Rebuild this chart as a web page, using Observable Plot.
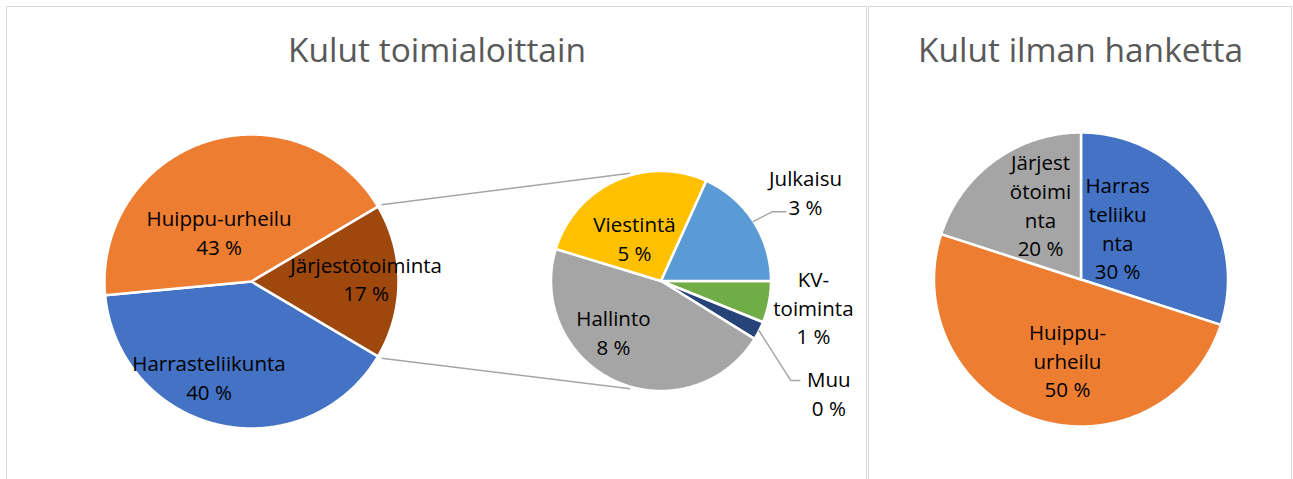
<!DOCTYPE html>
<html><head><meta charset="utf-8">
<script src="https://cdn.jsdelivr.net/npm/d3@7"></script>
<script src="https://cdn.jsdelivr.net/npm/@observablehq/plot@0.6"></script>
<style>
body{margin:0;background:#fff;}
#wrap{position:relative;width:1293px;height:479px;overflow:hidden;font-family:"Open Sans",sans-serif;}
.panel{position:absolute;top:6px;height:520px;border:1.5px solid #d9d9d9;box-sizing:border-box;}
#wrap svg{position:absolute;left:0;top:0;}
</style></head><body>
<div id="wrap"><div class="panel" style="left:6px;width:861px"></div><div class="panel" style="left:868px;width:424px"></div></div>
<script>
// ---------- data ----------
const titles = ["Kulut toimialoittain", "Kulut ilman hanketta"];
// main pie (clockwise order)
const mainCategories = ["Harrasteliikunta", "Huippu-urheilu", "Järjestötoiminta"];
const mainValues = [40, 43, 17];
// secondary pie = breakdown of Järjestötoiminta (% of total), clockwise from 3 o'clock
const subCategories = ["KV-toiminta", "Muu", "Hallinto", "Viestintä", "Julkaisu"];
const subValues = [1.04, 0.46, 7.8, 4.6, 3.1];
// right pie (clockwise from 12 o'clock)
const rightCategories = ["Harrasteliikunta", "Huippu-urheilu", "Järjestötoiminta"];
const rightValues = [30, 50, 20];
// label texts as wrapped in the chart
const mainLabelText = ["Harrasteliikunta", "Huippu-urheilu", "Järjestötoiminta"];
const subLabelText = ["KV-\ntoiminta", "Muu", "Hallinto", "Viestintä", "Julkaisu"];
const rightLabelText = ["Harras\nteliiku\nnta", "Huippu-\nurheilu", "Järjest\nötoimi\nnta"];

// ---------- styles / layout ----------
const W = 1293, H = 479;
const mainColors = ["#4472C4", "#ED7D31", "#9E480E"];
const subColors = ["#70AD47", "#264478", "#A5A5A5", "#FFC000", "#5B9BD5"];
const rightColors = ["#4472C4", "#ED7D31", "#A5A5A5"];
const geo = {
  main: {cx: 251, cy: 281, r: 147},
  sub: {cx: 660.5, cy: 280.5, r: 110},
  right: {cx: 1080.5, cy: 279, r: 147}
};
const panelCenters = [436.5, 1080];
// label placement: [angle tweak (deg), radius fraction]
const mainLabelPos = [[11.5, 0.708], [-15, 0.405], [-1.8, 0.78]];
const subLabelPos = [[-1.5, 1.405], [6.6, 1.83], [19, 0.63], [-7, 0.463], [1.1, 1.545]];
const rightLabelPos = [[-19, 0.435], [-8.4, 0.552], [7.8, 0.583]];
// leader lines (subpie): knee and end offsets relative to label centre
const leaders = {"Julkaisu": [[-33, 20], [-20, 20]], "Muu": [[-38, -11.5], [-29, -11.5]]};

const rad = d => d * Math.PI / 180;
const polar = (g, a, rr) => ({x: g.cx + rr * Math.sin(rad(a)), y: g.cy - rr * Math.cos(rad(a))});

function buildPie(id, names, values, colors, start, g, labelText, labelPos, pctOf) {
  const total = d3.sum(values);
  let a = start;
  const pts = [], labels = [], info = [];
  names.forEach((n, i) => {
    const span = values[i] / total * 360;
    const a0 = a, a1 = a + span, mid = (a0 + a1) / 2;
    const key = id + ":" + n;
    pts.push({key, color: colors[i], x: g.cx, y: g.cy});
    const steps = Math.max(2, Math.ceil(span * 2));
    for (let k = 0; k <= steps; k++) {
      const p = polar(g, a0 + (a1 - a0) * k / steps, g.r);
      pts.push({key, color: colors[i], ...p});
    }
    const [tw, fr] = labelPos[i];
    const lp = polar(g, mid + tw, fr * g.r);
    const pct = Math.round(values[i] / pctOf * 100);
    labels.push({...lp, text: labelText[i] + "\n" + pct + " %", name: n});
    info.push({name: n, a0, a1, mid});
    a = a1;
  });
  return {pts, labels, info};
}

const mainTotal = d3.sum(mainValues);
const mainStart = 90 + mainValues[2] / mainTotal * 180; // "other" slice centred at 3 o'clock
const mainPie = buildPie("main", mainCategories, mainValues, mainColors, mainStart, geo.main, mainLabelText, mainLabelPos, mainTotal);
const subPie = buildPie("sub", subCategories, subValues, subColors, 90, geo.sub, subLabelText, subLabelPos, mainTotal);
const rightPie = buildPie("right", rightCategories, rightValues, rightColors, 0, geo.right, rightLabelText, rightLabelPos, d3.sum(rightValues));

// connector lines between main "other" slice and secondary pie
const other = mainPie.info[2];
const connectors = [
  {p1: polar(geo.main, other.a0, geo.main.r + 4), p2: polar(geo.sub, 344, geo.sub.r + 2)},
  {p1: polar(geo.main, other.a1, geo.main.r + 4), p2: polar(geo.sub, 196, geo.sub.r + 2)}
];

// leader lines
const leaderPts = [];
subPie.info.forEach((s, i) => {
  const L = leaders[s.name];
  if (!L) return;
  const lab = subPie.labels[i];
  const e = polar(geo.sub, s.mid, geo.sub.r);
  leaderPts.push({key: s.name, x: e.x, y: e.y});
  L.forEach(([dx, dy]) => leaderPts.push({key: s.name, x: lab.x + dx, y: lab.y + dy}));
});

const allPts = [...mainPie.pts, ...subPie.pts, ...rightPie.pts];
const allLabels = [...mainPie.labels, ...subPie.labels, ...rightPie.labels];
const titleData = titles.map((t, i) => ({text: t, x: panelCenters[i], y: 51}));

const chart = Plot.plot({
  width: W, height: H,
  margin: 0,
  x: {domain: [0, W], range: [0, W], axis: null},
  y: {domain: [0, H], range: [0, H], axis: null},
  style: {fontFamily: "'Open Sans', sans-serif", background: "transparent"},
  marks: [
    Plot.link(connectors, {x1: d => d.p1.x, y1: d => d.p1.y, x2: d => d.p2.x, y2: d => d.p2.y, stroke: "#a6a6a6", strokeWidth: 1.5}),
    Plot.line(allPts, {x: "x", y: "y", z: "key", fill: "color", stroke: "white", strokeWidth: 2.5, strokeLinejoin: "round", curve: "linear-closed"}),
    Plot.line(leaderPts, {x: "x", y: "y", z: "key", stroke: "#a6a6a6", strokeWidth: 1.5}),
    Plot.text(allLabels, {x: "x", y: "y", text: "text", fontSize: 20.5, lineHeight: 1.4, fill: "#000", textAnchor: "middle"}),
    Plot.text(titleData, {x: "x", y: "y", text: "text", fontSize: 33.5, fill: "#595959", textAnchor: "middle"})
  ]
});
document.getElementById("wrap").appendChild(chart);
</script>
</body></html>
